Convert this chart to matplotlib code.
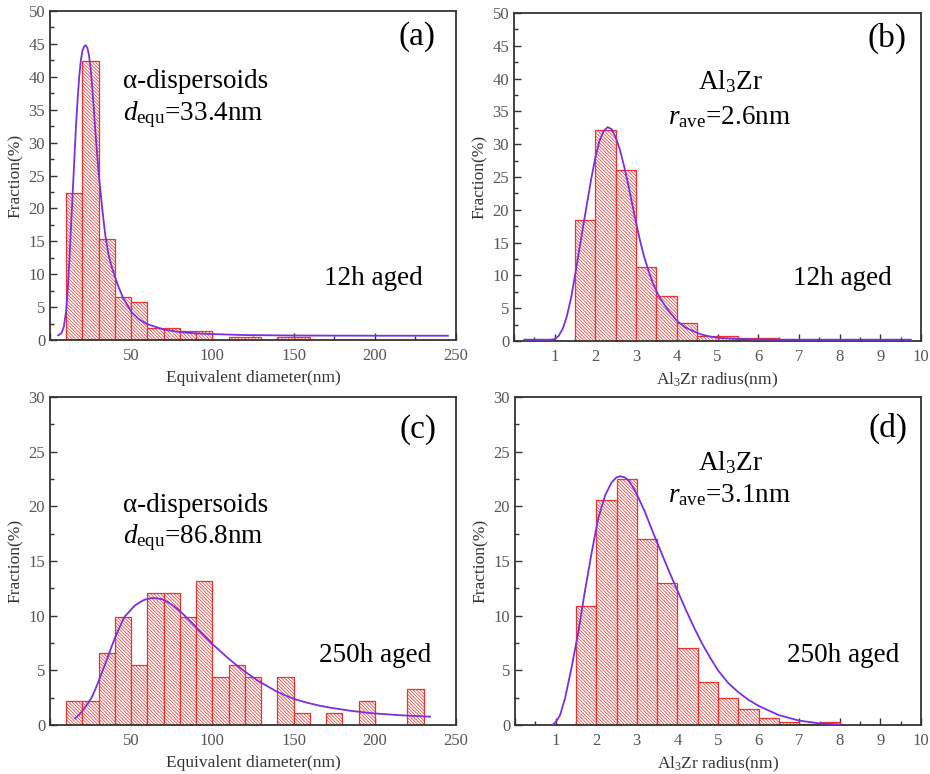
import matplotlib
matplotlib.use('Agg')
import matplotlib.pyplot as plt
import numpy as np
from matplotlib.ticker import MultipleLocator

plt.rcParams['font.family'] = ['Liberation Serif', 'DejaVu Serif']
plt.rcParams['mathtext.fontset'] = 'custom'
plt.rcParams['mathtext.rm'] = 'Liberation Serif'
plt.rcParams['mathtext.it'] = 'Liberation Serif:italic'
plt.rcParams['hatch.linewidth'] = 0.5

# (a) alpha-dispersoids, 12h
a_left = [10, 20, 30, 40, 50, 60, 70, 80, 90, 110, 120, 140, 150]
a_frac = [22.3, 42.4, 15.3, 6.6, 5.7, 1.8, 1.8, 1.3, 1.3, 0.5, 0.5, 0.5, 0.5]
a_fx = [5, 7, 8.5, 10, 11, 12, 13, 14, 15, 16, 17, 18, 19, 20, 21, 22, 23, 24, 25,
        26, 27, 28, 29, 30, 32, 34, 36, 38, 40, 42, 45, 50, 55, 60, 70, 80, 90,
        100, 120, 150, 200, 245]
a_fy = [0.7, 1.0, 2.0, 4.5, 8.0, 12.5, 17.5, 22.5, 27.5, 32.5, 36.5, 40.0, 42.5,
        44.0, 44.6, 44.8, 44.4, 43.3, 41.3, 38.5, 35.0, 31.5, 28.3, 25.3, 20.3,
        16.0, 13.0, 11.1, 9.6, 8.2, 6.4, 4.3, 3.1, 2.4, 1.6, 1.2, 1.0, 0.9, 0.75,
        0.68, 0.65, 0.65]

# (b) Al3Zr, 12h
b_left = [1.5, 2.0, 2.5, 3.0, 3.5, 4.0, 4.5, 5.0, 5.5, 6.0]
b_frac = [18.4, 32.2, 26.1, 11.3, 6.8, 2.7, 0.8, 0.7, 0.4, 0.4]
b_fx = [0.25, 0.9, 1.0, 1.1, 1.2, 1.3, 1.4, 1.5, 1.6, 1.7, 1.8, 1.9, 2.0, 2.1,
        2.2, 2.3, 2.4, 2.5, 2.6, 2.7, 2.8, 2.9, 3.0, 3.1, 3.2, 3.3, 3.4, 3.5,
        3.6, 3.8, 4.0, 4.2, 4.4, 4.6, 4.8, 5.0, 5.5, 6.0, 7.0, 9.75]
b_fy = [0.2, 0.2, 0.3, 0.8, 1.9, 3.8, 6.5, 10.0, 13.8, 17.5, 21.2, 24.8, 28.0,
        30.5, 32.0, 32.6, 32.3, 31.0, 29.2, 26.8, 24.0, 21.0, 18.0, 15.2, 12.8,
        10.8, 9.0, 7.6, 6.4, 4.6, 3.1, 2.1, 1.5, 1.0, 0.7, 0.5, 0.3, 0.22, 0.2, 0.2]

# (c) alpha-dispersoids, 250h
c_left = [10, 20, 30, 40, 50, 60, 70, 80, 90, 100, 110, 120, 140, 150, 170, 190, 220]
c_frac = [2.2, 2.2, 6.6, 9.9, 5.5, 12.1, 12.1, 9.9, 13.2, 4.4, 5.5, 4.4, 4.4,
          1.1, 1.1, 2.2, 3.3]
c_fx = [15.5, 18, 20.5, 23, 25.6, 28, 30.7, 33, 35.8, 38, 40.9, 43, 45.9, 49,
        52, 55, 58.1, 62, 65.2, 69, 72.4, 76, 80.5, 84, 88.6, 92, 96.7, 100,
        104.9, 109, 113, 118, 123.2, 128, 133.3, 139, 145, 151, 158, 165, 172,
        185, 198, 215, 234]
c_fy = [0.6, 0.95, 1.4, 1.9, 2.5, 3.3, 4.3, 5.2, 6.3, 7.2, 8.3, 9.0, 9.9, 10.4,
        10.9, 11.2, 11.45, 11.6, 11.6, 11.5, 11.25, 10.9, 10.35, 9.85, 9.15,
        8.6, 7.9, 7.4, 6.75, 6.2, 5.7, 5.1, 4.55, 4.05, 3.6, 3.1, 2.7, 2.35,
        2.05, 1.8, 1.6, 1.3, 1.08, 0.9, 0.76]

# (d) Al3Zr, 250h
d_left = [1.5, 2.0, 2.5, 3.0, 3.5, 4.0, 4.5, 5.0, 5.5, 6.0, 6.5, 7.0, 7.5]
d_frac = [10.9, 20.6, 22.5, 17.0, 13.0, 7.0, 3.9, 2.5, 1.5, 0.6, 0.3, 0.1, 0.3]
d_fx = [0.92, 1.0, 1.11, 1.23, 1.39, 1.56, 1.72, 1.89, 2.05, 2.22, 2.38, 2.5,
        2.59, 2.7, 2.79, 2.9, 3.0, 3.2, 3.4, 3.6, 3.8, 4.0, 4.2, 4.4, 4.6, 4.8,
        5.0, 5.25, 5.5, 5.75, 6.0, 6.5, 7.0, 7.5, 8.0]
d_fy = [0.0, 0.25, 0.9, 2.4, 5.2, 8.5, 12.2, 15.8, 18.9, 21.0, 22.2, 22.65,
        22.75, 22.65, 22.4, 21.8, 21.1, 19.5, 17.6, 15.8, 14.0, 12.3, 10.6, 9.0,
        7.5, 6.2, 5.0, 3.85, 3.0, 2.3, 1.75, 0.9, 0.4, 0.15, 0.05]

W, H = 930, 774
fig = plt.figure(figsize=(W / 100, H / 100), dpi=100)

def make_ax(l, r, t, b):
    return fig.add_axes([l / W, 1 - b / H, (r - l) / W, (b - t) / H])

red = '#f0302a'
purple = '#7a2fe0'
grey = '#555555'

def panel(ax, left, frac, w, fx, fy, xmax, xmaj, ymax, xlabel):
    ax.bar(left, frac, width=w, align='edge', facecolor='white', edgecolor=red,
           hatch='\\' * 10, linewidth=0.9, zorder=2)
    ax.plot(fx, fy, color=purple, lw=1.3, zorder=3)
    ax.set_xlim(0, xmax)
    ax.set_ylim(0, ymax)
    ax.xaxis.set_major_locator(MultipleLocator(xmaj))
    ax.xaxis.set_minor_locator(MultipleLocator(xmaj / 2))
    ax.yaxis.set_major_locator(MultipleLocator(5))
    ax.yaxis.set_minor_locator(MultipleLocator(2.5))
    ax.tick_params(which='both', direction='in', colors='#333333',
                   labelcolor=grey, labelsize=12, width=1)
    ax.tick_params(which='major', length=5)
    ax.tick_params(which='minor', length=3)
    ax.tick_params(axis='x', pad=6)
    ticks = ax.get_xticks()
    ax.set_xticks(ticks)
    ax.set_xticklabels(['' if t == 0 else '%g' % t for t in ticks])
    ax.set_xlim(0, xmax)
    for s in ax.spines.values():
        s.set_color('#333333')
        s.set_linewidth(1.3)
    ax.set_xlabel(xlabel, fontsize=12.5, color='#333333', labelpad=4)
    ax.set_ylabel('Fraction(%)', fontsize=12.5, color='#333333', labelpad=3)

ax1 = make_ax(50, 456, 11, 340)
panel(ax1, a_left, a_frac, 10, a_fx, a_fy, 250, 50, 50, 'Equivalent diameter(nm)')
ax2 = make_ax(514, 921, 13, 341)
panel(ax2, b_left, b_frac, 0.5, b_fx, b_fy, 10, 1, 50, 'Al$_3$Zr radius(nm)')
ax3 = make_ax(50, 456, 397, 725)
panel(ax3, c_left, c_frac, 10, c_fx, c_fy, 250, 50, 30, 'Equivalent diameter(nm)')
ax4 = make_ax(515, 921, 397, 725)
panel(ax4, d_left, d_frac, 0.5, d_fx, d_fy, 10, 1, 30, 'Al$_3$Zr radius(nm)')

def ftext(x, y, s, size=19.5, ha='center'):
    fig.text(x / W, 1 - y / H, s, fontsize=size, ha=ha, va='center', color='black')

# panel labels and notes
ftext(417, 37, '(a)', 24)
ftext(123, 82, 'α-dispersoids', 19.5, 'left')
ftext(123, 115, '$\\mathit{d}_{\\mathrm{equ}}$=33.4nm', 19.5, 'left')
ftext(373, 278, '12h aged')

ftext(887, 38, '(b)', 24)
ftext(730, 82, 'Al$_3$Zr')
ftext(730, 117, '$\\mathit{r}_{\\mathrm{ave}}$=2.6nm')
ftext(842, 278, '12h aged')

ftext(418, 430, '(c)', 24)
ftext(123, 505, 'α-dispersoids', 19.5, 'left')
ftext(123, 538, '$\\mathit{d}_{\\mathrm{equ}}$=86.8nm', 19.5, 'left')
ftext(375, 655, '250h aged')

ftext(888, 428, '(d)', 24)
ftext(730, 463, 'Al$_3$Zr')
ftext(730, 495, '$\\mathit{r}_{\\mathrm{ave}}$=3.1nm')
ftext(843, 655, '250h aged')

fig.savefig('out.png', dpi=100)
